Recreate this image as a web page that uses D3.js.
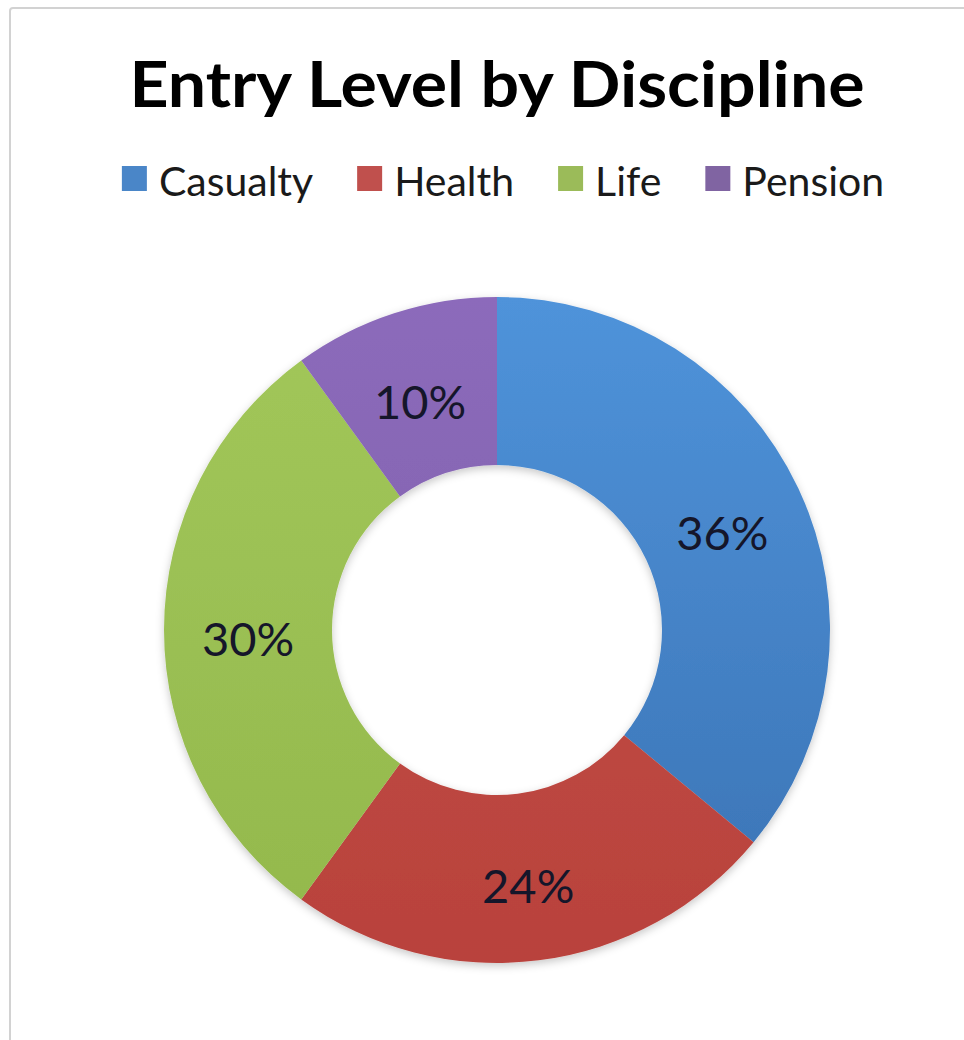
<!DOCTYPE html>
<html>
<head>
<meta charset="utf-8">
<script src="https://cdn.jsdelivr.net/npm/d3@7"></script>
<style>
  html, body { margin: 0; padding: 0; background: #ffffff; }
  svg { display: block; }
</style>
</head>
<body>
<svg id="chart" width="964" height="1040"></svg>
<script>
const title = "Entry Level by Discipline";
const categories = ["Casualty", "Health", "Life", "Pension"];
const values = [36, 24, 30, 10];
const labels = ["36%", "24%", "30%", "10%"];
const colorsTop = ["#4f93da", "#c4504a", "#a2c75a", "#8c6bbb"];
const colorsBottom = ["#3a72b3", "#b9423c", "#93b84c", "#7b5aa6"];
const legendColors = ["#4a86c8", "#c0504d", "#9bbb59", "#8064a2"];

const svg = d3.select("#chart");
const W = 964, H = 1040;
const cx = 497, cy = 630, outerR = 333, innerR = 165;

// frame
svg.append("rect")
  .attr("x", 10).attr("y", 8)
  .attr("width", W + 20).attr("height", H + 20)
  .attr("rx", 3)
  .attr("fill", "#ffffff")
  .attr("stroke", "#d2d2d2")
  .attr("stroke-width", 2);

const defs = svg.append("defs");
const f = defs.append("filter").attr("id", "shadow")
  .attr("x", "-20%").attr("y", "-20%").attr("width", "140%").attr("height", "140%");
f.append("feDropShadow").attr("dx", 0).attr("dy", 3).attr("stdDeviation", 4)
  .attr("flood-color", "#000").attr("flood-opacity", 0.22);

categories.forEach((c, i) => {
  const g = defs.append("linearGradient").attr("id", "grad" + i)
    .attr("gradientUnits", "userSpaceOnUse")
    .attr("x1", 0).attr("y1", -outerR).attr("x2", 0).attr("y2", outerR);
  g.append("stop").attr("offset", "0%").attr("stop-color", colorsTop[i]);
  g.append("stop").attr("offset", "100%").attr("stop-color", colorsBottom[i]);
});

// title: fit width, glyph height close to reference
const sx = 1.08;
const tg = svg.append("g").attr("transform", `translate(497,107) scale(${sx},1)`);
const t = tg.append("text")
  .attr("x", 0).attr("y", 0)
  .attr("text-anchor", "middle")
  .attr("font-family", "Lato, 'Open Sans', sans-serif")
  .attr("font-weight", "bold")
  .attr("font-size", 61)
  .attr("fill", "#000")
  .text(title);
const tw = t.node().getComputedTextLength();
t.attr("font-size", 61 * (735 / sx) / tw);

// legend
const legendY = 196, sq = 25, sqGap = 12, itemGap = 44, legendFont = 41;
const lg = svg.append("g");
const items = lg.selectAll("g").data(categories).join("g");
items.append("rect")
  .attr("width", sq).attr("height", sq)
  .attr("y", legendY - 30)
  .attr("fill", (d, i) => legendColors[i]);
items.append("text")
  .attr("x", sq + sqGap).attr("y", legendY)
  .attr("font-family", "Lato, 'Open Sans', sans-serif")
  .attr("font-size", legendFont)
  .attr("fill", "#1a1a1a")
  .text(d => d);
const widths = [];
items.each(function() {
  widths.push(sq + sqGap + d3.select(this).select("text").node().getComputedTextLength());
});
const total = d3.sum(widths) + itemGap * (widths.length - 1);
let xpos = 503 - total / 2;
items.attr("transform", (d, i) => {
  const x = xpos;
  xpos += widths[i] + itemGap;
  return `translate(${x},0)`;
});

// donut
const pie = d3.pie().sort(null).value(d => d)
  .startAngle(0).endAngle(2 * Math.PI);
const arc = d3.arc().innerRadius(innerR).outerRadius(outerR);
const arcs = pie(values);

const g = svg.append("g").attr("transform", `translate(${cx},${cy})`);
g.append("g").attr("filter", "url(#shadow)")
  .selectAll("path").data(arcs).join("path")
  .attr("d", arc)
  .attr("fill", (d, i) => `url(#grad${i})`);

g.selectAll("text.lbl").data(arcs).join("text")
  .attr("class", "lbl")
  .attr("transform", d => `translate(${arc.centroid(d)})`)
  .attr("text-anchor", "middle")
  .attr("dy", "0.55em")
  .attr("font-family", "Lato, 'Open Sans', sans-serif")
  .attr("font-size", 47)
  .attr("fill", "#15162a")
  .text((d, i) => labels[i]);
</script>
</body>
</html>
